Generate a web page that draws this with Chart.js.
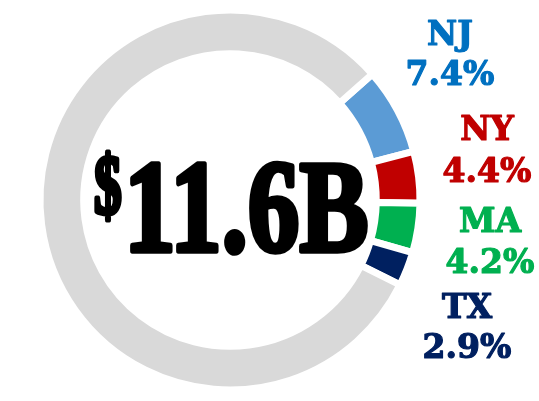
<!DOCTYPE html>
<html>
<head>
<meta charset="utf-8">
<script src="https://cdn.jsdelivr.net/npm/chart.js@4"></script>
<style>
  html, body { margin: 0; padding: 0; background: #fff; }
  #wrap { width: 539px; height: 401px; position: relative; }
</style>
</head>
<body>
<div id="wrap"><canvas id="chart"></canvas></div>
<script>
const states = ['NJ', 'NY', 'MA', 'TX', 'Other'];
const shares = [7.4, 4.4, 4.2, 2.9, 81.1];
const totalLabel = ['$', '11.6B'];

const segColors = ['#5b9bd5', '#c00000', '#00b050', '#002060', '#d9d9d9'];
const textColors = ['#0070c0', '#c00000', '#00b050', '#002060'];
// label anchors (centre x, baseline of name, baseline of value)
const labelPos = [[450, 45, 85], [487, 140, 182], [490, 232, 273], [467, 318, 358]];

const labelPlugin = {
    id: 'labels',
    afterDraw(c) {
        const ctx = c.ctx;
        ctx.save();
        ctx.textAlign = 'center';
        ctx.textBaseline = 'alphabetic';
        ctx.font = 'bold 33px "DejaVu Serif"';
        ctx.lineWidth = 1.2;
        ctx.lineJoin = 'round';
        for (let i = 0; i < labelPos.length; i++) {
            const p = labelPos[i];
            ctx.fillStyle = textColors[i];
            ctx.strokeStyle = textColors[i];
            ctx.fillText(states[i], p[0], p[1]);
            ctx.strokeText(states[i], p[0], p[1]);
            const v = shares[i].toFixed(1) + '%';
            ctx.fillText(v, p[0], p[2]);
            ctx.strokeText(v, p[0], p[2]);
        }

        // big condensed total in the middle
        ctx.fillStyle = '#000';
        ctx.strokeStyle = '#000';
        ctx.textAlign = 'left';

        ctx.save();
        ctx.translate(94, 214);
        ctx.scale(0.66, 1);
        ctx.font = 'bold 84px "Liberation Serif"';
        ctx.lineWidth = 5;
        ctx.fillText(totalLabel[0], 0, 0);
        ctx.strokeText(totalLabel[0], 0, 0);
        ctx.restore();

        ctx.save();
        ctx.translate(124, 251);
        ctx.scale(0.79, 1);
        ctx.font = 'bold 131px "Liberation Serif"';
        ctx.lineWidth = 5.5;
        ctx.fillText(totalLabel[1], 0, 0);
        ctx.strokeText(totalLabel[1], 0, 0);
        ctx.restore();

        ctx.restore();
    }
};

const chart = new Chart(document.getElementById('chart'), {
    type: 'doughnut',
    data: {
        labels: states,
        datasets: [{
            data: shares,
            backgroundColor: segColors,
            borderColor: '#ffffff',
            borderWidth: 7,
            radius: 190,
            hoverOffset: 0
        }]
    },
    options: {
        responsive: true,
        maintainAspectRatio: false,
        animation: false,
        rotation: 48.5,
        cutout: '77%',
        layout: { padding: { left: 0, right: 79, top: 0, bottom: 1 } },
        plugins: {
            legend: { display: false },
            tooltip: { enabled: false }
        }
    },
    plugins: [labelPlugin]
});
</script>
</body>
</html>
